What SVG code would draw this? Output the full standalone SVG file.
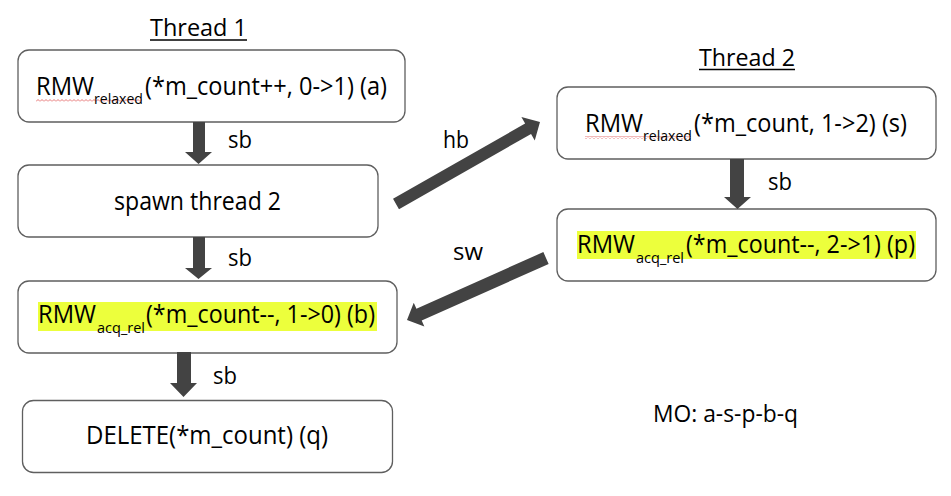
<svg xmlns="http://www.w3.org/2000/svg" width="951" height="496" viewBox="0 0 951 496">
<defs>
<style>
.box{fill:#fff;stroke:#5f5f5f;stroke-width:1.3}
.t{font-family:"Open Sans","Liberation Sans",sans-serif;font-size:25px;fill:#000}
.sub{font-family:"Open Sans","Liberation Sans",sans-serif;font-size:14px;fill:#000}
.lbl{font-family:"Open Sans","Liberation Sans",sans-serif;font-size:23px;fill:#000}
.hl{fill:#ecff3c}
.arr{fill:#434343}
.ul{stroke:#000;stroke-width:1.5}
</style>
<pattern id="wave" width="4" height="3" patternUnits="userSpaceOnUse">
<path d="M0,2.5 L2,0.5 L4,2.5" fill="none" stroke="#e05050" stroke-width="0.8"/>
</pattern>
</defs>
<rect width="951" height="496" fill="#fff"/>

<g id="title1">
<text class="lbl" x="150" y="36" textLength="97" lengthAdjust="spacingAndGlyphs">Thread 1</text>
<line class="ul" x1="150" y1="40" x2="247" y2="40"/>
</g>
<g id="title2">
<text class="lbl" x="699" y="66" textLength="96" lengthAdjust="spacingAndGlyphs">Thread 2</text>
<line class="ul" x1="699" y1="69.5" x2="795" y2="69.5"/>
</g>

<g id="node-a">
<rect class="box" x="18" y="50" width="387" height="72" rx="11"/>
<rect x="36" y="99" width="106" height="3" fill="url(#wave)"/>
<text class="t" x="36" y="95" textLength="58" lengthAdjust="spacingAndGlyphs">RMW</text>
<text class="sub" x="94" y="104" textLength="49" lengthAdjust="spacingAndGlyphs">relaxed</text>
<text class="t" x="145" y="95" textLength="242" lengthAdjust="spacingAndGlyphs">(*m_count++, 0-&gt;1) (a)</text>
</g>

<g id="node-spawn">
<rect class="box" x="18" y="165" width="360" height="72" rx="11"/>
<text class="t" x="114" y="210" textLength="167" lengthAdjust="spacingAndGlyphs">spawn thread 2</text>
</g>

<g id="node-b">
<rect class="box" x="18" y="281" width="379" height="72" rx="11"/>
<rect class="hl" x="38" y="302" width="339" height="29"/>
<text class="t" x="38" y="323" textLength="58" lengthAdjust="spacingAndGlyphs">RMW</text>
<text class="sub" x="97" y="333" textLength="48" lengthAdjust="spacingAndGlyphs">acq_rel</text>
<text class="t" x="146" y="323" textLength="229" lengthAdjust="spacingAndGlyphs">(*m_count--, 1-&gt;0) (b)</text>
</g>

<g id="node-q">
<rect class="box" x="22.5" y="400.5" width="370" height="72" rx="11"/>
<text class="t" x="86" y="444" textLength="242" lengthAdjust="spacingAndGlyphs">DELETE(*m_count) (q)</text>
</g>

<g id="node-s">
<rect class="box" x="557" y="87" width="379" height="72" rx="11"/>
<rect x="585" y="136" width="106" height="3" fill="url(#wave)"/>
<text class="t" x="585" y="132" textLength="58" lengthAdjust="spacingAndGlyphs">RMW</text>
<text class="sub" x="643" y="141" textLength="49" lengthAdjust="spacingAndGlyphs">relaxed</text>
<text class="t" x="694" y="132" textLength="213" lengthAdjust="spacingAndGlyphs">(*m_count, 1-&gt;2) (s)</text>
</g>

<g id="node-p">
<rect class="box" x="557" y="209" width="379" height="72" rx="11"/>
<rect class="hl" x="577" y="231" width="339" height="28"/>
<text class="t" x="577" y="253" textLength="58" lengthAdjust="spacingAndGlyphs">RMW</text>
<text class="sub" x="636" y="263" textLength="48" lengthAdjust="spacingAndGlyphs">acq_rel</text>
<text class="t" x="686" y="253" textLength="229" lengthAdjust="spacingAndGlyphs">(*m_count--, 2-&gt;1) (p)</text>
</g>

<g id="mo">
<text class="lbl" x="653" y="422" textLength="145" lengthAdjust="spacingAndGlyphs">MO: a-s-p-b-q</text>
</g>

<g id="connectors">
<path class="arr" d="M193,122 H205 V152 H212 L198.5,164 L185,152 H193 Z"/>
<text class="lbl" x="228" y="148" textLength="24" lengthAdjust="spacingAndGlyphs">sb</text>
<path class="arr" d="M193,237 H205 V268 H212 L198.5,279 L185,268 H193 Z"/>
<text class="lbl" x="228" y="266" textLength="24" lengthAdjust="spacingAndGlyphs">sb</text>
<path class="arr" d="M177,352 H191 V383 H197 L183.5,397 L170,383 H177 Z"/>
<text class="lbl" x="213" y="384" textLength="24" lengthAdjust="spacingAndGlyphs">sb</text>
<path class="arr" d="M730,159 H744 V197 H751 L737.5,209 L724,197 H730 Z"/>
<text class="lbl" x="768" y="190" textLength="24" lengthAdjust="spacingAndGlyphs">sb</text>
<path class="arr" transform="translate(396,204) rotate(-29.66)" d="M0,-6 H152 V-13.5 L165.7,0 L152,13.5 V6 H0 Z"/>
<text class="lbl" x="443" y="148" textLength="26" lengthAdjust="spacingAndGlyphs">hb</text>
<path class="arr" transform="translate(546,258) rotate(155.96)" d="M0,-6.5 H139 V-13 L152.2,0 L139,13 V6.5 H0 Z"/>
<text class="lbl" x="453" y="260" textLength="30" lengthAdjust="spacingAndGlyphs">sw</text>
</g>
</svg>
